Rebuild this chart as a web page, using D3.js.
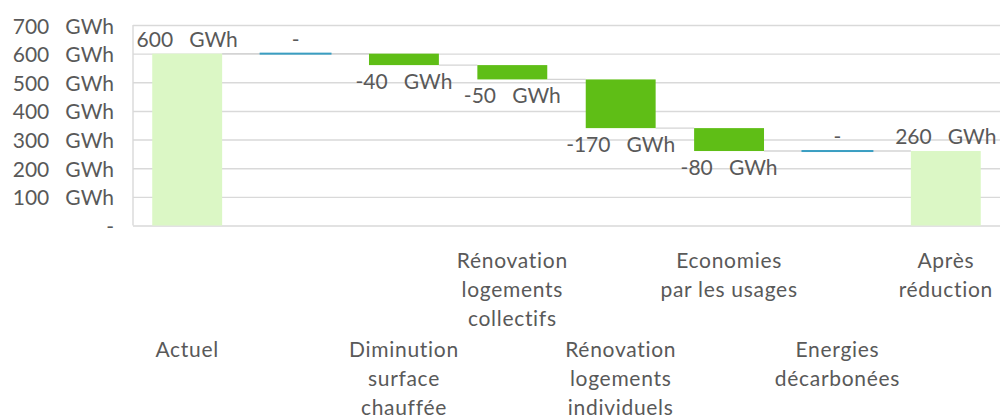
<!DOCTYPE html>
<html lang="fr">
<head>
<meta charset="utf-8">
<script src="https://cdn.jsdelivr.net/npm/d3@7"></script>
<style>
  html, body { margin: 0; padding: 0; background: #fff; }
  svg { display: block; }
  svg text { font-family: "Lato", "Open Sans", sans-serif; fill: #595959; white-space: pre; }
</style>
</head>
<body>
<svg id="chart" width="1003" height="418"></svg>
<script>
// Bilan énergétique : passage de la consommation actuelle à la consommation après réduction
const categories = [
  "Actuel",
  "",
  "Diminution\nsurface\nchauffée",
  "Rénovation\nlogements\ncollectifs",
  "Rénovation\nlogements\nindividuels",
  "Economies\npar les usages",
  "Energies\ndécarbonées",
  "Après\nréduction"
];
const values = [600, 0, -40, -50, -170, -80, 0, 260];
const kinds = ["total", "delta", "delta", "delta", "delta", "delta", "delta", "total"];
const yTicks = [0, 100, 200, 300, 400, 500, 600, 700];

const unit = "GWh";
const fmt = v => v === 0 ? "-" : `${v}   ${unit}`;
const fontSize = 21;

const colors = {
  total: "#dbf7c5",
  decrease: "#5fbe16",
  flat: "#3a9ec2",
  grid: "#d9d9d9",
  connector: "#d4d4d4"
};

const svg = d3.select("#chart");
const plot = { left: 133, right: 1000, top: 25, bottom: 225.5 };

const x = d3.scaleBand()
  .domain(d3.range(categories.length))
  .range([plot.left, plot.right])
  .paddingInner(0.355)
  .paddingOuter(0.1775);

const y = d3.scaleLinear()
  .domain([0, 700])
  .range([plot.bottom, plot.top]);

// running totals for the waterfall steps
let running = 0;
const steps = values.map((v, i) => {
  let start, end;
  if (kinds[i] === "total") { start = 0; end = v; }
  else { start = running; end = running + v; }
  running = end;
  return { i, v, kind: kinds[i], start, end };
});

// horizontal grid
svg.append("g")
  .attr("transform", `translate(${plot.left},0)`)
  .call(d3.axisLeft(y).tickValues(yTicks).tickSize(-(plot.right - plot.left)).tickFormat(""))
  .call(g => g.select(".domain").remove())
  .call(g => g.selectAll(".tick line").attr("stroke", colors.grid).attr("stroke-width", 1.4));

// left axis line
svg.append("line")
  .attr("x1", plot.left).attr("x2", plot.left)
  .attr("y1", y(700)).attr("y2", y(0))
  .attr("stroke", colors.grid).attr("stroke-width", 1.4);

// y tick labels
svg.append("g")
  .attr("transform", `translate(${plot.left - 19},0)`)
  .call(d3.axisLeft(y).tickValues(yTicks).tickSize(0).tickPadding(0).tickFormat(fmt))
  .call(g => g.select(".domain").remove())
  .call(g => g.selectAll(".tick text")
    .attr("font-size", fontSize)
    .attr("dy", null)
    .attr("y", 8));

// connectors between consecutive steps
svg.append("g").selectAll("line")
  .data(steps.slice(0, -1))
  .join("line")
  .attr("x1", d => x(d.i) + x.bandwidth())
  .attr("x2", d => x(d.i + 1))
  .attr("y1", d => y(d.end))
  .attr("y2", d => y(d.end))
  .attr("stroke", colors.connector)
  .attr("stroke-width", 1.4);

// bars
svg.append("g").selectAll("rect")
  .data(steps)
  .join("rect")
  .attr("x", d => d.v === 0 ? x(d.i) - 1 : x(d.i))
  .attr("width", d => d.v === 0 ? x.bandwidth() + 2 : x.bandwidth())
  .attr("y", d => d.v === 0 ? y(d.end) - 1 : y(Math.max(d.start, d.end)))
  .attr("height", d => d.v === 0 ? 2 : Math.abs(y(d.start) - y(d.end)))
  .attr("fill", d => d.kind === "total" ? colors.total : (d.v === 0 ? colors.flat : colors.decrease));

// value labels
svg.append("g").selectAll("text")
  .data(steps)
  .join("text")
  .attr("x", d => x(d.i) + x.bandwidth() / 2)
  .attr("y", d => d.v < 0 && d.kind === "delta"
    ? y(Math.min(d.start, d.end)) + 24
    : y(Math.max(d.start, d.end)) - 7)
  .attr("text-anchor", "middle")
  .attr("font-size", fontSize)
  .text(d => fmt(d.v));

// category axis with staggered, multi-line labels
const xAxis = svg.append("g")
  .attr("transform", `translate(0,${plot.bottom})`)
  .call(d3.axisBottom(x).tickSize(0).tickFormat(""))
  .call(g => g.select(".domain").remove());

xAxis.selectAll(".tick").each(function(i) {
  const lines = categories[i].split("\n");
  const base = (i % 2 === 0 ? 357 : 268) - plot.bottom;
  const t = d3.select(this).select("text")
    .attr("y", base)
    .attr("dy", null)
    .attr("font-size", fontSize)
    .attr("letter-spacing", 0.7);
  t.selectAll("tspan")
    .data(lines)
    .join("tspan")
    .attr("x", 0)
    .attr("y", (d, k) => base + k * 29)
    .text(d => d);
});
</script>
</body>
</html>
